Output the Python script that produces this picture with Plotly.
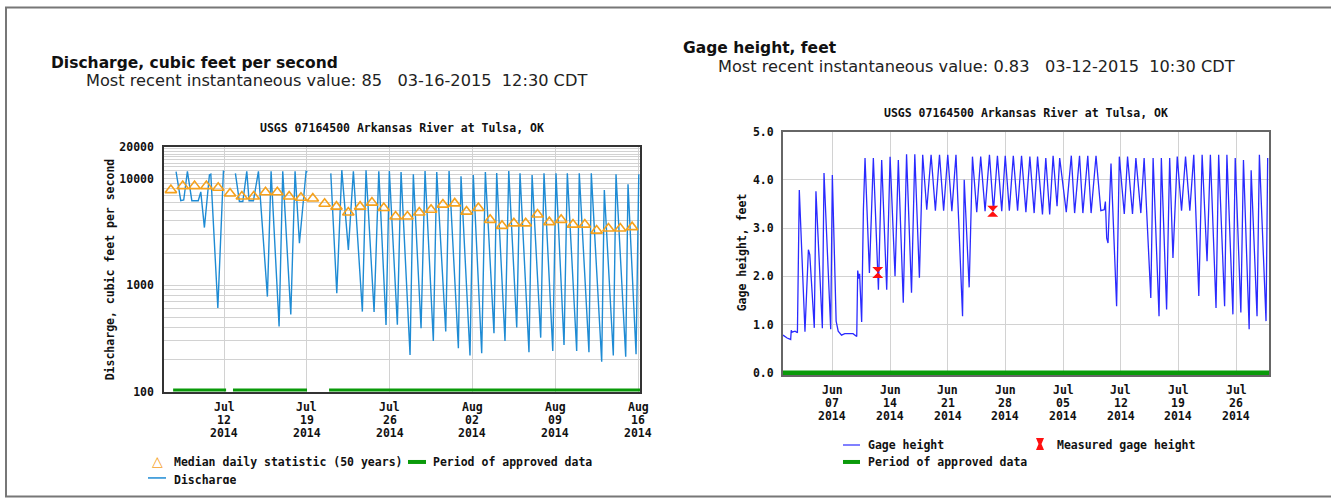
import math
import pandas as pd
import plotly.graph_objects as go

W, H = 1331, 504

# ---------------- data: discharge chart ----------------
median_dates = list(pd.date_range("2014-07-07 12:00", periods=40, freq="D"))
median_values = [7800, 8500, 8500, 8500, 8200, 7250, 6800, 6800, 7450, 7450,
                 6800, 6600, 6500, 5800, 5450, 4800, 5450, 5950, 5300, 4400,
                 4400, 4800, 5100, 5700, 5850, 4900, 5300, 4100, 3600, 3800,
                 3800, 4600, 3900, 4100, 3700, 3700, 3250, 3400, 3400, 3500]

dis_times = [
    "2014-07-07 22:30", "2014-07-08 08:00", "2014-07-08 14:00", "2014-07-08 21:30",
    "2014-07-09 06:30", "2014-07-09 19:30", "2014-07-10 00:40", "2014-07-10 08:00",
    "2014-07-10 18:10", "2014-07-10 21:00", "2014-07-11 11:15", "2014-07-11 22:35",
    "2014-07-12 00:30",
    None,
    "2014-07-12 22:55", "2014-07-13 07:00", "2014-07-13 14:00", "2014-07-13 22:00",
    "2014-07-14 02:40", "2014-07-14 11:30", "2014-07-14 21:40", "2014-07-15 15:50",
    "2014-07-15 23:20", "2014-07-16 15:35", "2014-07-16 23:00", "2014-07-17 15:20",
    "2014-07-18 00:00", "2014-07-18 08:50", "2014-07-18 22:20", "2014-07-19 01:00",
    None,
    "2014-07-21 00:30", "2014-07-21 12:40", "2014-07-21 22:50", "2014-07-22 12:10",
    "2014-07-22 22:20", "2014-07-23 16:35", "2014-07-24 00:00", "2014-07-24 16:20",
    "2014-07-25 01:55", "2014-07-25 16:35", "2014-07-25 23:20", "2014-07-26 15:35",
    "2014-07-26 23:05", "2014-07-27 17:20", "2014-07-28 00:00", "2014-07-28 15:40",
    "2014-07-28 23:45", "2014-07-29 16:35", "2014-07-29 23:30", "2014-07-30 17:45",
    "2014-07-31 00:30", "2014-07-31 19:25", "2014-08-01 00:45", "2014-08-01 19:00",
    "2014-08-02 01:40", "2014-08-02 18:45", "2014-08-03 02:10", "2014-08-03 19:40",
    "2014-08-04 01:10", "2014-08-04 18:00", "2014-08-05 01:40", "2014-08-05 17:50",
    "2014-08-06 00:30", "2014-08-06 18:40", "2014-08-07 01:00", "2014-08-07 18:30",
    "2014-08-08 01:10", "2014-08-08 19:00", "2014-08-09 01:30", "2014-08-09 17:50",
    "2014-08-10 00:30", "2014-08-10 19:30", "2014-08-11 00:45", "2014-08-11 20:25",
    "2014-08-12 01:10", "2014-08-12 22:15", "2014-08-13 03:35", "2014-08-13 21:50",
    "2014-08-14 03:20", "2014-08-14 23:00", "2014-08-15 03:40", "2014-08-15 20:00",
    "2014-08-16 01:30",
]
dis_values = [
    11600, 6200, 6300, 11700, 6200, 6200, 7500, 3470, 10840, 11000, 610, 11700, 11600,
    None,
    11200, 6100, 6100, 11700, 6200, 6200, 11700, 780, 11700, 408, 11700, 530,
    11700, 2470, 11700, 11500,
    None,
    11200, 837, 12000, 2140, 11700, 564, 12000, 560, 11700, 423, 11800, 425,
    11500, 221, 11000, 393, 11800, 299, 11500, 366, 11800, 255, 10500, 218,
    10800, 229, 11500, 353, 11300, 299, 11800, 400, 11200, 234, 10800, 321,
    11200, 241, 11200, 274, 11200, 241, 11200, 234, 11200, 191, 7830, 218,
    11000, 213, 8850, 224, 11000,
]
dis_approved = [("2014-07-07 16:30", "2014-07-12 04:00"),
                ("2014-07-12 18:00", "2014-07-19 00:15"),
                ("2014-07-20 21:00", "2014-08-16 04:00")]
dis_xticks = ["2014-07-12", "2014-07-19", "2014-07-26", "2014-08-02", "2014-08-09", "2014-08-16"]
dis_xlabels = [("Jul", "12", "2014"), ("Jul", "19", "2014"), ("Jul", "26", "2014"),
               ("Aug", "02", "2014"), ("Aug", "09", "2014"), ("Aug", "16", "2014")]
dis_ylabels = {100: "100", 1000: "1000", 10000: "10000", 20000: "20000"}

# ---------------- data: gage height chart ----------------
gage_times = [
    "2014-06-01 00:00", "2014-06-01 12:00", "2014-06-01 22:20", "2014-06-02 00:00",
    "2014-06-02 02:30", "2014-06-02 11:00", "2014-06-02 18:00", "2014-06-02 23:30",
    "2014-06-03 16:00", "2014-06-04 02:00", "2014-06-04 06:00", "2014-06-04 19:10",
    "2014-06-05 00:00", "2014-06-05 18:40", "2014-06-05 23:30", "2014-06-06 19:00",
    "2014-06-06 23:45", "2014-06-07 10:50", "2014-06-07 16:50", "2014-06-08 02:30",
    "2014-06-08 12:00", "2014-06-09 12:00", "2014-06-09 22:50", "2014-06-10 01:40",
    "2014-06-10 04:50", "2014-06-10 07:10", "2014-06-10 13:10", "2014-06-10 18:15",
    "2014-06-10 23:00", "2014-06-11 11:45", "2014-06-11 23:15", "2014-06-12 14:00",
    "2014-06-12 23:30", "2014-06-13 14:10", "2014-06-14 00:00", "2014-06-14 14:25",
    "2014-06-15 00:00", "2014-06-15 14:25", "2014-06-16 00:00", "2014-06-16 14:25",
    "2014-06-17 00:00", "2014-06-17 13:25", "2014-06-17 23:00", "2014-06-18 10:50",
    "2014-06-18 23:30", "2014-06-19 12:00", "2014-06-20 00:00", "2014-06-20 12:00",
    "2014-06-21 00:00", "2014-06-21 12:00", "2014-06-22 00:00", "2014-06-22 19:10",
    "2014-06-23 00:00", "2014-06-23 14:25", "2014-06-24 00:00", "2014-06-24 12:30",
    "2014-06-25 00:00", "2014-06-25 12:45", "2014-06-26 01:30", "2014-06-26 13:10",
    "2014-06-27 00:45", "2014-06-27 13:20", "2014-06-27 23:30", "2014-06-28 11:30",
    "2014-06-28 23:00", "2014-06-29 11:30", "2014-06-29 23:00", "2014-06-30 11:45",
    "2014-06-30 23:15", "2014-07-01 11:45", "2014-07-01 21:40", "2014-07-02 12:00",
    "2014-07-02 21:40", "2014-07-03 09:00", "2014-07-03 19:00", "2014-07-04 06:30",
    "2014-07-04 14:10", "2014-07-05 09:20", "2014-07-06 00:00", "2014-07-06 09:40",
    "2014-07-07 00:00", "2014-07-07 09:40", "2014-07-08 00:00", "2014-07-08 09:40",
    "2014-07-09 00:00", "2014-07-09 14:00", "2014-07-10 00:00", "2014-07-10 03:20",
    "2014-07-10 07:10", "2014-07-10 11:00", "2014-07-10 19:40", "2014-07-11 12:00",
    "2014-07-11 19:55", "2014-07-12 10:20", "2014-07-12 19:55", "2014-07-13 10:20",
    "2014-07-13 20:10", "2014-07-14 10:35", "2014-07-14 20:10", "2014-07-15 15:35",
    "2014-07-15 22:20", "2014-07-16 15:35", "2014-07-16 22:20", "2014-07-17 13:40",
    "2014-07-17 22:35", "2014-07-18 08:10", "2014-07-18 20:40", "2014-07-19 09:10",
    "2014-07-19 20:50", "2014-07-20 09:20", "2014-07-20 20:50", "2014-07-21 11:30",
    "2014-07-21 21:10", "2014-07-22 11:30", "2014-07-22 21:10", "2014-07-23 13:40",
    "2014-07-23 21:20", "2014-07-24 14:40", "2014-07-24 21:20", "2014-07-25 14:50",
    "2014-07-25 21:35", "2014-07-26 14:00", "2014-07-26 21:35", "2014-07-27 14:10",
    "2014-07-27 20:00", "2014-07-28 13:10", "2014-07-28 20:00", "2014-07-29 15:20",
    "2014-07-29 20:10",
]
gage_values = [
    0.78, 0.72, 0.69, 0.88, 0.84, 0.86, 0.83, 3.79, 0.85, 2.55, 2.45, 0.93,
    3.76, 0.92, 4.14, 0.90, 4.10, 1.07, 0.86, 0.78, 0.81, 0.81, 0.75, 2.12,
    1.95, 2.05, 1.05, 3.38, 4.45, 2.07, 4.45, 1.72, 4.41, 1.72, 4.48, 2.00,
    4.41, 1.45, 4.53, 1.66, 4.53, 1.97, 4.52, 3.38, 4.52, 3.36, 4.52, 3.36,
    4.52, 3.35, 4.52, 1.17, 4.00, 1.77, 4.48, 3.33, 4.48, 3.35, 4.52, 3.35,
    4.50, 3.35, 4.50, 3.36, 4.50, 3.36, 4.50, 3.33, 4.48, 3.31, 4.48, 3.28,
    4.45, 3.28, 4.50, 3.45, 4.45, 3.33, 4.50, 3.31, 4.50, 3.31, 4.50, 3.31,
    4.50, 3.36, 3.38, 3.55, 2.79, 2.69, 4.34, 1.38, 4.48, 3.29, 4.48, 3.29,
    4.45, 3.31, 4.45, 1.55, 4.45, 1.17, 4.45, 1.31, 4.45, 2.38, 4.48, 3.36,
    4.48, 3.36, 4.52, 1.59, 4.52, 2.31, 4.52, 1.34, 4.52, 1.38, 4.52, 1.21,
    4.45, 1.25, 4.41, 0.90, 4.20, 1.17, 4.52, 1.07, 4.45,
]
measured_times = ["2014-06-12 12:00", "2014-06-26 11:00"]
measured_values = [2.08, 3.35]
gage_approved = [("2014-06-01 00:00", "2014-07-30 00:00")]
gage_xticks = ["2014-06-07", "2014-06-14", "2014-06-21", "2014-06-28",
               "2014-07-05", "2014-07-12", "2014-07-19", "2014-07-26"]
gage_xlabels = [("Jun", "07", "2014"), ("Jun", "14", "2014"), ("Jun", "21", "2014"),
                ("Jun", "28", "2014"), ("Jul", "05", "2014"), ("Jul", "12", "2014"),
                ("Jul", "19", "2014"), ("Jul", "26", "2014")]
gage_yticks = [0, 1, 2, 3, 4, 5]
gage_ylabels = ["0.0", "1.0", "2.0", "3.0", "4.0", "5.0"]

# ---------------- styles ----------------
MONO = "DejaVu Sans Mono"
SANS = "DejaVu Sans"
FS = 11.5
C_DIS = "#1e8bd4"
C_MED = "#f5a11c"
C_APP = "#0a9a0a"
C_GAGE = "#2a2aff"
C_GRID = "#d2d2d2"

# the photographed page shows the figure slightly squeezed vertically;
# these two numbers map a wanted screen row to a figure row
Y_OFF, Y_SCALE = 5.2, 0.974


def px(x):
    return x / W


def py(y):
    yd = (y - Y_OFF) / Y_SCALE
    yd = min(max(yd, 0.5), H - 0.5)
    return 1 - yd / H


def periods_xy(periods, yval):
    xs, ys = [], []
    for a, b in periods:
        xs += [a, b, None]
        ys += [yval, yval, None]
    return xs, ys


fig = go.Figure()

fig.add_trace(go.Scatter(x=dis_times, y=dis_values, mode="lines", connectgaps=False,
                         line=dict(color=C_DIS, width=1.4), xaxis="x", yaxis="y"))
fig.add_trace(go.Scatter(x=median_dates, y=median_values, mode="markers",
                         marker=dict(symbol="triangle-up-open", size=10, color=C_MED,
                                     line=dict(width=1.6, color=C_MED)),
                         xaxis="x", yaxis="y"))
ax, ay = periods_xy(dis_approved, 100)
fig.add_trace(go.Scatter(x=ax, y=ay, mode="lines", connectgaps=False,
                         line=dict(color=C_APP, width=6), xaxis="x", yaxis="y"))

gx, gy = periods_xy(gage_approved, 0)
fig.add_trace(go.Scatter(x=gx, y=gy, mode="lines", line=dict(color=C_APP, width=4.5),
                         xaxis="x2", yaxis="y2"))
fig.add_trace(go.Scatter(x=gage_times, y=gage_values, mode="lines",
                         line=dict(color=C_GAGE, width=1.3), xaxis="x2", yaxis="y2"))
fig.add_trace(go.Scatter(x=measured_times, y=measured_values, mode="markers",
                         marker=dict(symbol="hourglass", size=11, color="#ff1010"),
                         xaxis="x2", yaxis="y2"))

tickfont = dict(family=MONO, size=FS, color="#111", weight="bold")

dis_grid = [m * 10 ** e for e in (2, 3) for m in range(1, 10)] + list(range(10000, 20001, 1000))
dis_gridtext = [dis_ylabels.get(v, "") for v in dis_grid]

fig.update_layout(
    width=W, height=H, margin=dict(l=0, r=0, t=0, b=0), autosize=False,
    paper_bgcolor="white", plot_bgcolor="white", showlegend=False,
    xaxis=dict(domain=[px(164), px(640)], type="date",
               range=["2014-07-06 22:00", "2014-08-16 04:00"],
               tickvals=dis_xticks, showticklabels=False, ticks="",
               showgrid=True, gridcolor=C_GRID, gridwidth=1,
               showline=True, mirror=True, linecolor="#333",
               linewidth=1.5, zeroline=False, anchor="y"),
    yaxis=dict(domain=[py(390.5), py(145)], type="log",
               range=[2, math.log10(20000)],
               tickvals=dis_grid, ticktext=dis_gridtext,
               showgrid=True, gridcolor=C_GRID, gridwidth=1,
               ticks="outside", ticklen=6, tickcolor="rgba(0,0,0,0)",
               tickfont=tickfont, showline=True, mirror=True, linecolor="#333",
               linewidth=1.5, zeroline=False, anchor="x"),
    xaxis2=dict(domain=[px(783), px(1269)], type="date",
                range=["2014-06-01 00:00", "2014-07-30 00:00"],
                tickvals=gage_xticks, showticklabels=False, ticks="",
                showgrid=True, gridcolor=C_GRID, gridwidth=1,
                showline=True, mirror=True, linecolor="#666",
                linewidth=2, zeroline=False, anchor="y2"),
    yaxis2=dict(domain=[py(374), py(130)], range=[-0.05, 5.0],
                tickvals=gage_yticks, ticktext=gage_ylabels,
                showgrid=True, gridcolor=C_GRID, gridwidth=1,
                ticks="outside", ticklen=5, tickcolor="rgba(0,0,0,0)",
                tickfont=tickfont, showline=True, mirror=True, linecolor="#666",
                linewidth=2, zeroline=False, anchor="x2"),
)

anns = []


def ann(text, x, y, size, family=MONO, weight="bold", xanchor="left", yanchor="middle",
        color="#111", angle=0, xref="paper", **kw):
    d = dict(text=text, x=(px(x) if xref == "paper" else x), y=py(y), xref=xref,
             yref="paper", showarrow=False,
             xanchor=xanchor, yanchor=yanchor, textangle=angle,
             font=dict(family=family, size=size, color=color, weight=weight))
    d.update(kw)
    anns.append(d)


for dates, labels, axref, rows in ((dis_xticks, dis_xlabels, "x", (406, 419, 432)),
                                   (gage_xticks, gage_xlabels, "x2", (389, 402, 415))):
    for d, lab in zip(dates, labels):
        for part, yy in zip(lab, rows):
            ann(part, d, yy, FS, xanchor="center", xref=axref)

NB = "\u00a0"
ann("Discharge, cubic feet per second", 49, 61, 15.5, family=SANS)
ann("Most recent instantaneous value: 85" + NB * 3 + "03-16-2015" + NB * 2 + "12:30 CDT",
    84, 79, 16.2, family=SANS, weight="normal", color="#222")
ann("Gage height, feet", 681, 46, 15.5, family=SANS)
ann("Most recent instantaneous value: 0.83" + NB * 3 + "03-12-2015" + NB * 2 + "10:30 CDT",
    716, 65, 16.2, family=SANS, weight="normal", color="#222")

ann("USGS 07164500 Arkansas River at Tulsa, OK", 402, 126, FS, xanchor="center")
ann("USGS 07164500 Arkansas River at Tulsa, OK", 1026, 111, FS, xanchor="center")
ann("Discharge, cubic feet per second", 110, 268, FS, xanchor="center", angle=-90)
ann("Gage height, feet", 742, 251, FS, xanchor="center", angle=-90)

ann("\u25b3", 157, 460, 14, family="DejaVu Sans", weight="normal", xanchor="center", color=C_MED)
ann("Median daily statistic (50 years)", 172, 461, FS)
ann("Period of approved data", 431, 461, FS)
ann("Discharge", 172, 470, FS, yanchor="top", height=11, valign="top")

ann("Gage height", 866, 444, FS)
ann("Measured gage height", 1055, 444, FS)
ann("Period of approved data", 866, 461, FS)

shapes = []


def hline(x0, x1, y, color, width):
    shapes.append(dict(type="line", xref="paper", yref="paper", x0=px(x0), x1=px(x1),
                       y0=py(y), y1=py(y), line=dict(color=color, width=width)))


def vline(x, y0, y1, color, width):
    shapes.append(dict(type="line", xref="paper", yref="paper", x0=px(x), x1=px(x),
                       y0=py(y0), y1=py(y1), line=dict(color=color, width=width)))


hline(408, 426, 461, C_APP, 4)
hline(148, 166, 477, C_DIS, 1.5)
hline(843, 860, 444, "#8080ff", 2)
hline(843, 860, 461, C_APP, 4)
cx, cy = 1040, 443
pts = [(cx - 4, cy - 6), (cx + 4, cy - 6), (cx + 1.5, cy), (cx + 4, cy + 6),
       (cx - 4, cy + 6), (cx - 1.5, cy)]
path = "M " + " L ".join(f"{px(a):.5f},{py(b):.5f}" for a, b in pts) + " Z"
shapes.append(dict(type="path", xref="paper", yref="paper", path=path,
                   fillcolor="#ff1010", line=dict(width=0)))

hline(5, W, 4, "#777", 2)
hline(5, W, 502, "#777", 2)
vline(6, 4, 502, "#777", 2)

fig.update_layout(annotations=anns, shapes=shapes)
fig.write_html(
    "out.html",
    config={"displayModeBar": False},
    post_script=("var s=document.documentElement.style;s.margin='0';s.padding='0';"
                 "s.overflow='hidden';var b=document.body.style;b.margin='0';"
                 "b.padding='0';b.overflow='hidden';"),
)
